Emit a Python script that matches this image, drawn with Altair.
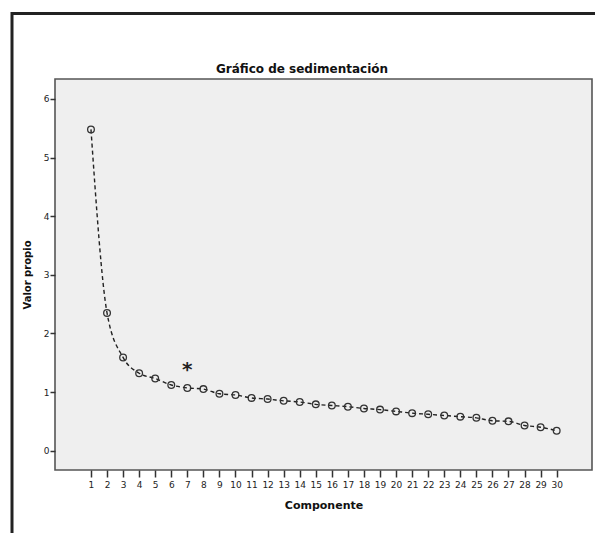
import altair as alt
import pandas as pd

componentes = list(range(1, 31))
valores = [5.48, 2.35, 1.59, 1.32, 1.23, 1.12, 1.07, 1.05, 0.97, 0.95,
           0.90, 0.88, 0.85, 0.83, 0.79, 0.77, 0.75, 0.72, 0.70, 0.67,
           0.64, 0.62, 0.60, 0.58, 0.56, 0.51, 0.50, 0.43, 0.40, 0.34]
y_ticks = [0, 1, 2, 3, 4, 5, 6]
nota_x = [7]
nota_y = [1.46]
nota_txt = ["*"]
titulo = ["Gráfico de sedimentación"]

df = pd.DataFrame({"Componente": componentes, "Valor": valores})
df_nota = pd.DataFrame({"Componente": nota_x, "Valor": nota_y, "t": nota_txt})

FONT = "DejaVu Sans"
xs = alt.Scale(domain=[-1.24, 32.2], nice=False, zero=False)
ys = alt.Scale(domain=[-0.33, 6.34], nice=False, zero=False)

x_axis = alt.Axis(values=componentes, title="Componente", grid=False,
                  domain=False, tickSize=7, tickWidth=1.5, tickColor="#333333",
                  labelFontSize=9, labelPadding=3, titleFontSize=11,
                  titleFontWeight="bold", titlePadding=10, labelFont=FONT,
                  titleFont=FONT, labelColor="#222222", titleColor="#111111",
                  labelFlush=False, labelOverlap=False, format="d")
y_axis = alt.Axis(values=y_ticks, title="Valor propio", grid=False,
                  domain=False, tickSize=5, tickWidth=1.5, tickColor="#333333",
                  labelFontSize=9, labelPadding=1, titleFontSize=10,
                  titleFontWeight="bold", titlePadding=11, labelFont=FONT,
                  titleFont=FONT, labelColor="#222222", titleColor="#111111",
                  labelFlush=False, format="d")

X = alt.X("Componente:Q", scale=xs, axis=x_axis)
Y = alt.Y("Valor:Q", scale=ys, axis=y_axis)

frame = alt.Chart(pd.DataFrame({"a": [0]})).mark_rect(
    fill="transparent", stroke="#222222", strokeWidth=3
).encode(
    x=alt.value(-43), x2=alt.value(600),
    y=alt.value(-65.5), y2=alt.value(520)
)

title_mark = alt.Chart(pd.DataFrame({"t": titulo})).mark_text(
    font=FONT, fontSize=12, fontWeight="bold", color="#111111",
    align="center", baseline="middle"
).encode(
    x=alt.value(247), y=alt.value(-10.5), text="t:N"
)

base = alt.Chart(df).encode(x=X, y=Y)

line = base.mark_line(
    color="#222222", strokeDash=[4, 3], strokeWidth=1.4, interpolate="monotone"
)

points = base.mark_point(
    shape="circle", filled=False, color="#333333", size=45, strokeWidth=1.3, opacity=1
)

nota = alt.Chart(df_nota).mark_text(
    font=FONT, fontSize=20, fontWeight="bold", color="#222222",
    baseline="middle", dy=5
).encode(x=X, y=Y, text="t:N")

chart = alt.layer(frame, title_mark, line, points, nota).properties(
    width=537, height=391,
    autosize=alt.AutoSizeParams(type="none"),
    padding={"left": 47, "top": 71, "right": 3, "bottom": 63},
    background="white"
).configure_view(
    fill="#efefef", stroke="#555555", strokeWidth=1.6
)

chart.save("out.html", embed_options={"renderer": "svg", "actions": False})
